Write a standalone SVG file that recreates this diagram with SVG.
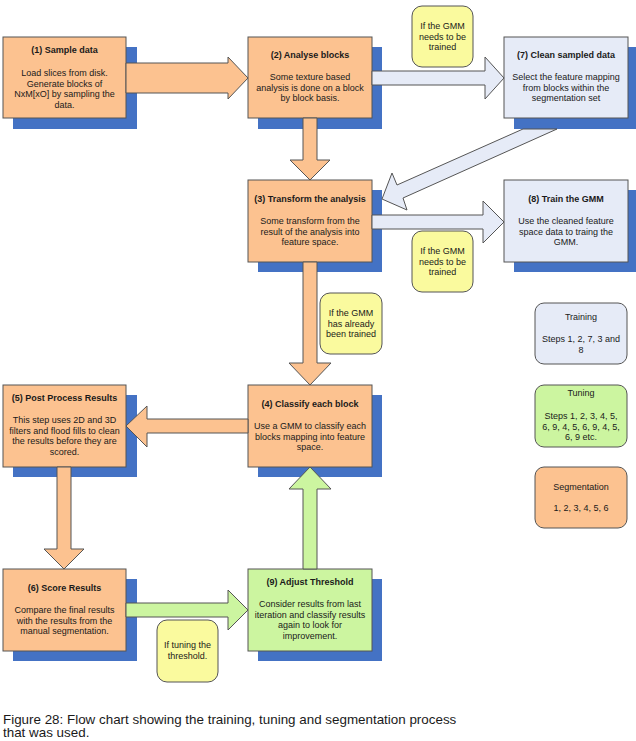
<svg xmlns="http://www.w3.org/2000/svg" width="636" height="741" viewBox="0 0 636 741">
<style>
text{font-family:"Liberation Sans",Arial,sans-serif;font-size:9px;fill:#1a1a1a;text-anchor:middle}
.t{font-weight:bold}
.cap{font-size:13.4px;text-anchor:start}
.sh{fill:#4472c4}
.bx{stroke:#555;stroke-width:1}
.or{fill:#fcc290}
.lb{fill:#e6ebf7}
.gr{fill:#ccf5a0}
.ye{fill:#fafa9e}
.ar{stroke:#555;stroke-width:1;stroke-linejoin:miter}
</style>
<rect width="636" height="741" fill="#fff"/>
<g id="n1">
<rect class="sh" x="13" y="47" width="124" height="82"/>
<rect class="bx or" x="3" y="37" width="123" height="81"/>
<text class="t" x="64.5" y="53">(1) Sample data</text>
<text x="64.5" y="76">Load slices from disk.</text>
<text x="64.5" y="86.5">Generate blocks of</text>
<text x="64.5" y="97">NxM[xO] by sampling the</text>
<text x="64.5" y="107.5">data.</text>
</g>
<g id="n2">
<rect class="sh" x="258" y="47" width="124" height="82"/>
<rect class="bx or" x="248" y="37" width="124" height="81"/>
<text class="t" x="310" y="58">(2) Analyse blocks</text>
<text x="310" y="80">Some texture based</text>
<text x="310" y="90.5">analysis is done on a block</text>
<text x="310" y="101">by block basis.</text>
</g>
<g id="n7">
<rect class="sh" x="514" y="47" width="124" height="82"/>
<rect class="bx lb" x="504" y="37" width="124" height="81"/>
<text class="t" x="566" y="58">(7) Clean sampled data</text>
<text x="566" y="80">Select the feature mapping</text>
<text x="566" y="90.5">from blocks within the</text>
<text x="566" y="101">segmentation set</text>
</g>
<g id="n3">
<rect class="sh" x="258" y="190" width="124" height="82"/>
<rect class="bx or" x="248" y="180" width="124" height="82"/>
<text class="t" x="310" y="202">(3) Transform the analysis</text>
<text x="310" y="224">Some transform from the</text>
<text x="310" y="234.5">result of the analysis into</text>
<text x="310" y="245">feature space.</text>
</g>
<g id="n8">
<rect class="sh" x="514" y="190" width="124" height="82"/>
<rect class="bx lb" x="504" y="180" width="124" height="82"/>
<text class="t" x="566" y="202">(8) Train the GMM</text>
<text x="566" y="224">Use the cleaned feature</text>
<text x="566" y="234.5">space data  to traing the</text>
<text x="566" y="245">GMM.</text>
</g>
<g id="n5">
<rect class="sh" x="13" y="395" width="124" height="82"/>
<rect class="bx or" x="3" y="385" width="123" height="82"/>
<text class="t" x="64.5" y="401">(5) Post Process Results</text>
<text x="64.5" y="423">This step uses 2D and 3D</text>
<text x="64.5" y="433.5">filters and flood fills to clean</text>
<text x="64.5" y="444">the results before they are</text>
<text x="64.5" y="454.5">scored.</text>
</g>
<g id="n4">
<rect class="sh" x="258" y="395" width="124" height="82"/>
<rect class="bx or" x="248" y="385" width="124" height="82"/>
<text class="t" x="310" y="407">(4) Classify each block</text>
<text x="310" y="429">Use a GMM to classify each</text>
<text x="310" y="439.5">blocks mapping into feature</text>
<text x="310" y="450">space.</text>
</g>
<g id="n6">
<rect class="sh" x="13" y="579" width="124" height="82"/>
<rect class="bx or" x="3" y="569" width="123" height="82"/>
<text class="t" x="64.5" y="591">(6) Score Results</text>
<text x="64.5" y="613">Compare the final results</text>
<text x="64.5" y="623.5">with the results from the</text>
<text x="64.5" y="634">manual segmentation.</text>
</g>
<g id="n9">
<rect class="sh" x="258" y="579" width="124" height="82"/>
<rect class="bx gr" x="248" y="569" width="124" height="82"/>
<text class="t" x="310" y="585">(9) Adjust Threshold</text>
<text x="310" y="607">Consider results from last</text>
<text x="310" y="617.5">iteration and classify results</text>
<text x="310" y="628">again to look for</text>
<text x="310" y="638.5">improvement.</text>
</g>
<g id="note1">
<rect class="bx ye" x="412" y="6" width="61" height="61" rx="10"/>
<text x="442.5" y="29">If the GMM</text>
<text x="442.5" y="39.5">needs to be</text>
<text x="442.5" y="50">trained</text>
</g>
<g id="note2">
<rect class="bx ye" x="412" y="231" width="61" height="61" rx="10"/>
<text x="442.5" y="254">If the GMM</text>
<text x="442.5" y="264.5">needs to be</text>
<text x="442.5" y="275">trained</text>
</g>
<g id="note3">
<rect class="bx ye" x="320" y="293" width="62" height="61" rx="10"/>
<text x="351" y="316">If the GMM</text>
<text x="351" y="326.5">has already</text>
<text x="351" y="337">been trained</text>
</g>
<g id="note4">
<rect class="bx ye" x="157" y="620" width="61" height="62" rx="10"/>
<text x="187.5" y="648">If tuning the</text>
<text x="187.5" y="658.5">threshold.</text>
</g>
<g id="legend-training">
<rect class="bx lb" x="535" y="303" width="92" height="61" rx="9"/>
<text x="581" y="320">Training</text>
<text x="581" y="342">Steps 1, 2, 7, 3 and</text>
<text x="581" y="352.5">8</text>
</g>
<g id="legend-tuning">
<rect class="bx gr" x="535" y="385" width="92" height="62" rx="9"/>
<text x="581" y="396">Tuning</text>
<text x="581" y="419">Steps 1, 2, 3, 4, 5,</text>
<text x="581" y="429.5">6, 9, 4, 5, 6, 9, 4, 5,</text>
<text x="581" y="440">6, 9 etc.</text>
</g>
<g id="legend-segmentation">
<rect class="bx or" x="535" y="467" width="92" height="61" rx="9"/>
<text x="581" y="490">Segmentation</text>
<text x="581" y="511">1, 2, 3, 4, 5, 6</text>
</g>
<g id="connectors">
<polygon class="ar or" points="126,63 228,63 228,57 248,78 228,99 228,93 126,93"/>
<polygon class="ar lb" points="372,71 485,71 485,57 504,78 485,99 485,85 372,85"/>
<polygon class="ar or" points="303,118 317,118 317,160 330,160 310,180 290,160 303,160"/>
<polygon class="ar lb" points="523,129 397,185 392,173 382,199 407,210 403,198 557,129"/>
<polygon class="ar lb" points="372,215 483,215 483,201 504,222 483,243 483,229 372,229"/>
<polygon class="ar or" points="303,262 317,262 317,363 331,363 310,385 289,363 303,363"/>
<polygon class="ar or" points="248,419 147,419 147,406 126,426 147,447 147,433 248,433"/>
<polygon class="ar or" points="57,467 71,467 71,549 84,549 64,569 44,549 57,549"/>
<polygon class="ar gr" points="126,603 228,603 228,590 248,610 228,630 228,617 126,617"/>
<polygon class="ar gr" points="303,569 317,569 317,489 331,489 310,467 289,489 303,489"/>
</g>
<text class="cap" x="3" y="723.5">Figure 28: Flow chart showing the training, tuning and segmentation process</text>
<text class="cap" x="3" y="737">that was used.</text>
</svg>
